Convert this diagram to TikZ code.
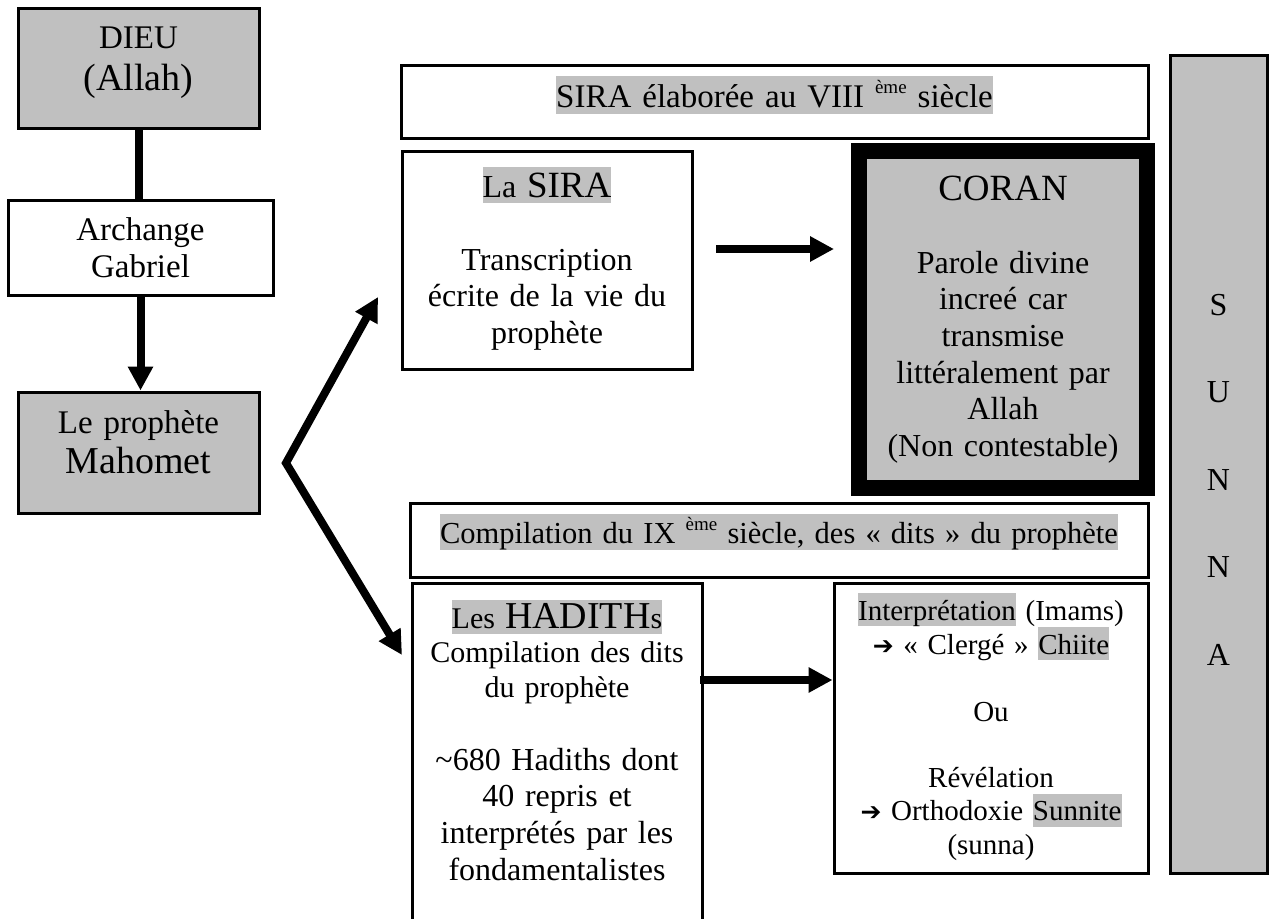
\documentclass[tikz,border=0pt]{standalone}
\usepackage{fontspec}
\setmainfont{Liberation Serif}
\newfontfamily\symfont{DejaVu Sans}
\usetikzlibrary{arrows.meta}
\definecolor{hl}{HTML}{C0C0C0}
\newcommand\hlt[1]{{\setlength{\fboxsep}{0pt}\colorbox{hl}{\rule[-0.2em]{0pt}{1.14em}#1}}}
\newcommand\expo[1]{\raisebox{0.42em}{\fontsize{19}{19}\selectfont #1}}
\newcommand\flecheR{{\symfont\fontsize{25}{25}\selectfont ➔}}
\newcommand\bigf[1]{{\fontsize{38}{42}\selectfont #1}}
\begin{document}
\begin{tikzpicture}[x=1pt,y=-1pt,
  box/.style={draw=black,line width=3pt,inner sep=0pt},
  gbox/.style={box,fill=hl},
  txt/.style={inner sep=0pt,text width=300pt,align=center,anchor=base},
  conn/.style={line width=8pt},
  arr/.style={conn,-{Triangle[length=24pt,width=24pt]}}]
\useasboundingbox (0,0) rectangle (1273,918);
\clip (0,0) rectangle (1273,918);
% boxes
\node[gbox,minimum width=241pt,minimum height=120pt] (dieu) at (138.5,68) {};
\node[box,fill=white,minimum width=265pt,minimum height=95pt] (gab) at (140.5,247.5) {};
\node[gbox,minimum width=241pt,minimum height=121pt] (maho) at (138.5,452.5) {};
\node[box,minimum width=747pt,minimum height=73pt] (sirab) at (774.5,101.5) {};
\node[box,minimum width=290pt,minimum height=218pt] (sira) at (547,260) {};
\node[draw=black,fill=hl,line width=16pt,inner sep=0pt,minimum width=288pt,minimum height=337pt] (coran) at (1003,319.5) {};
\node[gbox,minimum width=97pt,minimum height=818pt] (sunna) at (1218.5,464) {};
\node[box,minimum width=738pt,minimum height=74pt] (compb) at (779,540) {};
\node[box,minimum width=290pt,minimum height=360pt] (hadith) at (557,763) {};
\node[box,minimum width=314pt,minimum height=290pt] (interp) at (991,728) {};
% texts
\node[txt,font=\fontsize{33}{37}\selectfont] (tdieu) at (138.5,48) {DIEU\\[5pt]\bigf{(Allah)}};
\node[txt,font=\fontsize{33}{37}\selectfont] (tgab) at (140.5,240) {Archange\\Gabriel};
\node[txt,font=\fontsize{33}{37}\selectfont] (tmaho) at (138.5,433) {Le prophète\\[3pt]\bigf{Mahomet}};
\node[txt,text width=740pt,font=\fontsize{33}{37}\selectfont] (tsirab) at (774.5,107) {\hlt{SIRA élaborée au VIII \expo{ème} siècle}};
\node[txt,font=\fontsize{32}{37}\selectfont] (tsirah) at (547,197) {\hlt{La {\fontsize{37}{40}\selectfont SIRA}}};
\node[txt,font=\fontsize{32}{36.7}\selectfont] (tsira) at (547,270) {Transcription\\écrite de la vie du\\prophète};
\node[txt,font=\fontsize{37}{40}\selectfont] (tcoranh) at (1003,200) {CORAN};
\node[txt,font=\fontsize{32}{36.7}\selectfont] (tcoran) at (1003,273) {Parole divine\\increé car\\transmise\\littéralement par\\Allah\\(Non contestable)};
\node[txt,text width=90pt,font=\fontsize{32}{87.5}\selectfont] (tsunna) at (1218.5,315) {S\\U\\N\\N\\A};
\node[txt,text width=740pt,font=\fontsize{30.5}{36}\selectfont] (tcompb) at (779,543) {\hlt{Compilation du IX \expo{ème} siècle, des «~dits~» du prophète}};
\node[txt,font=\fontsize{30}{34.5}\selectfont] (thadh) at (557,628) {\hlt{Les {\fontsize{38}{40}\selectfont HADITH}s}\\Compilation des dits\\du prophète};
\node[txt,font=\fontsize{32}{36.7}\selectfont] (thad) at (557,770) {\textasciitilde680 Hadiths dont\\40 repris et\\interprétés par les\\fondamentalistes};
\node[txt,font=\fontsize{29}{33.3}\selectfont] (tinterp) at (991,620) {\hlt{Interprétation} (Imams)\\\flecheR{} «~Clergé~» \hlt{Chiite}\\[33.3pt]Ou\\[33.3pt]Révélation\\\flecheR{} Orthodoxie \hlt{Sunnite}\\(sunna)};
% connectors
\draw[conn] (dieu.south) -- (dieu.south |- gab.north);
\draw[arr] (gab.south) -- (gab.south |- maho.north);
\coordinate (v) at (286,463);
\coordinate (tipup) at (378,297);
\coordinate (tipdown) at (402,655);
\draw[conn,{Triangle[length=24pt,width=24pt]}-{Triangle[length=24pt,width=24pt]},line join=miter] (tipup) -- (v) -- (tipdown);
\coordinate (a1) at (716,249);
\coordinate (a2) at (834,249);
\draw[arr] (a1) -- (a2);
\coordinate (b1) at (700,680);
\draw[arr] (b1) -- (interp.west |- b1);
\end{tikzpicture}
\end{document}
